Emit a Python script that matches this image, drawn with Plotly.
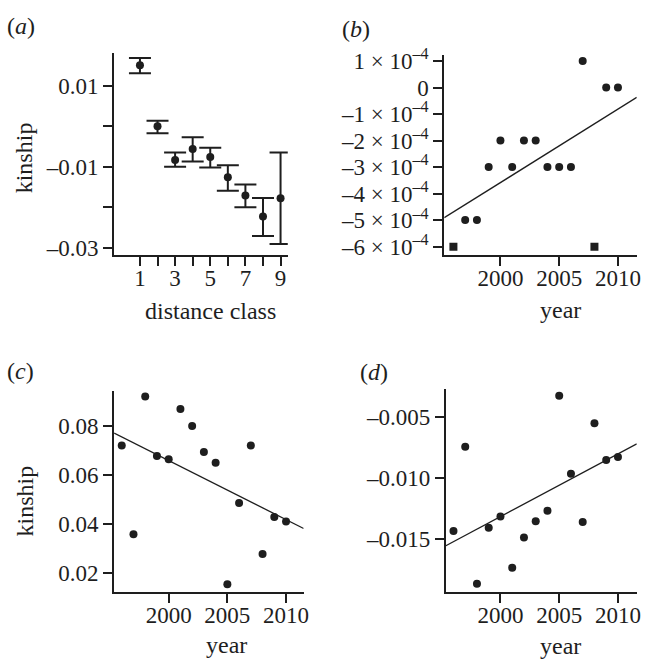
import plotly.graph_objects as go

# ---------------- data ----------------
a_class = [1, 2, 3, 4, 5, 6, 7, 8, 9]
a_mean = [0.0151, 0.0000, -0.0083, -0.0056, -0.0076, -0.0126, -0.0171, -0.0223, -0.0178]
a_upper = [0.0169, 0.0014, -0.0065, -0.0027, -0.0053, -0.0096, -0.0144, -0.0177, -0.0065]
a_lower = [0.0131, -0.0017, -0.0100, -0.0087, -0.0102, -0.0159, -0.0200, -0.0271, -0.0291]

years = [1996, 1997, 1998, 1999, 2000, 2001, 2002, 2003, 2004, 2005, 2006, 2007, 2008, 2009, 2010]
b_vals = [-6e-4, -5e-4, -5e-4, -3e-4, -2e-4, -3e-4, -2e-4, -2e-4, -3e-4, -3e-4, -3e-4, 1e-4, -6e-4, 0.0, 0.0]
c_vals = [0.0719, 0.0356, 0.0919, 0.0676, 0.0663, 0.0868, 0.0799, 0.0693, 0.0649, 0.0152,
          0.0484, 0.0719, 0.0276, 0.0427, 0.0409]
d_vals = [-0.01438, -0.00746, -0.01872, -0.01412, -0.01318, -0.01739, -0.01492, -0.01358,
          -0.01272, -0.00326, -0.00968, -0.01363, -0.00553, -0.00855, -0.00829]

b_fit_x = [1995.22, 2011.6]
b_fit_y = [-4.91e-4, -0.37e-4]
c_fit_x = [1995.35, 2011.5]
c_fit_y = [0.0770, 0.0380]
d_fit_x = [1995.35, 2011.6]
d_fit_y = [-0.01559, -0.00722]

a_tickvals = [0.01, -0.01, -0.03]
a_ticktext = ["0.01", "–0.01", "–0.03"]
a_minor_tickvals = [0.0, -0.02]
a_xtickvals = [1, 3, 5, 7, 9]
a_xticktext = ["1", "3", "5", "7", "9"]
a_xminor_tickvals = [2, 4, 6, 8]
b_tickvals = [1e-4, 0.0, -1e-4, -2e-4, -3e-4, -4e-4, -5e-4, -6e-4]
b_ticktext = ["1 × 10<sup>–4</sup>", "0", "–1 × 10<sup>–4</sup>", "–2 × 10<sup>–4</sup>",
              "–3 × 10<sup>–4</sup>", "–4 × 10<sup>–4</sup>", "–5 × 10<sup>–4</sup>",
              "–6 × 10<sup>–4</sup>"]
c_tickvals = [0.02, 0.04, 0.06, 0.08]
c_ticktext = ["0.02", "0.04", "0.06", "0.08"]
d_tickvals = [-0.005, -0.010, -0.015]
d_ticktext = ["–0.005", "–0.010", "–0.015"]
year_tickvals = [2000, 2005, 2010]
year_ticktext = ["2000", "2005", "2010"]

# ---------------- style ----------------
INK = "#1e1e1e"
FONT = "Liberation Serif"
TICK_SIZE = 23
TITLE_SIZE = 24

W, H = 648, 662


def px_x(a, b):
    return [a / W, b / W]


def px_y(top, bottom):
    return [1 - bottom / H, 1 - top / H]


fig = go.Figure()

# (a) error bars
fig.add_trace(go.Scatter(
    x=a_class, y=a_mean, mode="markers",
    marker=dict(color=INK, size=8, symbol="circle"),
    error_y=dict(type="data", symmetric=False,
                 array=[u - m for u, m in zip(a_upper, a_mean)],
                 arrayminus=[m - l for m, l in zip(a_mean, a_lower)],
                 color=INK, thickness=2, width=11),
    xaxis="x", yaxis="y", showlegend=False))

# (b)
b_symbols = ["square" if v == min(b_vals) else "circle" for v in b_vals]
fig.add_trace(go.Scatter(x=b_fit_x, y=b_fit_y, mode="lines",
                         line=dict(color=INK, width=1.3),
                         xaxis="x2", yaxis="y2", showlegend=False))
fig.add_trace(go.Scatter(x=years, y=b_vals, mode="markers",
                         marker=dict(color=INK, size=8, symbol=b_symbols),
                         xaxis="x2", yaxis="y2", showlegend=False))

# (c)
fig.add_trace(go.Scatter(x=c_fit_x, y=c_fit_y, mode="lines",
                         line=dict(color=INK, width=1.3),
                         xaxis="x3", yaxis="y3", showlegend=False))
fig.add_trace(go.Scatter(x=years, y=c_vals, mode="markers",
                         marker=dict(color=INK, size=8),
                         xaxis="x3", yaxis="y3", showlegend=False))

# (d)
fig.add_trace(go.Scatter(x=d_fit_x, y=d_fit_y, mode="lines",
                         line=dict(color=INK, width=1.3),
                         xaxis="x4", yaxis="y4", showlegend=False))
fig.add_trace(go.Scatter(x=years, y=d_vals, mode="markers",
                         marker=dict(color=INK, size=8),
                         xaxis="x4", yaxis="y4", showlegend=False))

common = dict(showline=True, linecolor=INK, linewidth=2, showgrid=False, zeroline=False,
              ticks="outside", ticklen=9, tickwidth=2, tickcolor=INK,
              tickfont=dict(family=FONT, size=TICK_SIZE, color=INK),
              tickmode="array", fixedrange=True)
xcommon = dict(common, ticklabelstandoff=-8)
ycommon = dict(common, ticklabelstandoff=0)


def minor(vals):
    return dict(tickmode="array", tickvals=vals, ticks="outside", ticklen=9,
                tickwidth=2, tickcolor=INK, showgrid=False)


fig.update_layout(
    width=W, height=H,
    margin=dict(l=0, r=0, t=0, b=0),
    paper_bgcolor="white", plot_bgcolor="white",
    font=dict(family=FONT, color=INK),
    xaxis=dict(domain=px_x(115, 290), range=[-0.47, 9.41], anchor="y",
               tickvals=a_xtickvals, ticktext=a_xticktext,
               minor=minor(a_xminor_tickvals), **xcommon),
    yaxis=dict(domain=px_y(45, 251.7), range=[-0.0319, 0.0181], anchor="x",
               tickvals=a_tickvals, ticktext=a_ticktext,
               minor=minor(a_minor_tickvals), **ycommon),
    xaxis2=dict(domain=px_x(447.7, 641.7), range=[1995.22, 2011.6], anchor="y2",
                tickvals=year_tickvals, ticktext=year_ticktext, **xcommon),
    yaxis2=dict(domain=px_y(46.7, 251.7), range=[-6.33e-4, 1.24e-4], anchor="x2",
                tickvals=b_tickvals, ticktext=b_ticktext, **ycommon),
    xaxis3=dict(domain=px_x(115, 306), range=[1995.35, 2011.5], anchor="y3",
                tickvals=year_tickvals, ticktext=year_ticktext, **xcommon),
    yaxis3=dict(domain=px_y(390, 595.7), range=[0.012, 0.0943], anchor="x3",
                tickvals=c_tickvals, ticktext=c_ticktext, **ycommon),
    xaxis4=dict(domain=px_x(449.3, 641.7), range=[1995.35, 2011.6], anchor="y4",
                tickvals=year_tickvals, ticktext=year_ticktext, **xcommon),
    yaxis4=dict(domain=px_y(388.3, 595.7), range=[-0.0194, -0.00272], anchor="x4",
                tickvals=d_tickvals, ticktext=d_ticktext, **ycommon),
)


def ann(text, x, y, size=TITLE_SIZE, angle=0):
    fig.add_annotation(text=text, x=x / W, y=1 - y / H, xref="paper", yref="paper",
                       xanchor="center", yanchor="middle", showarrow=False,
                       textangle=angle, font=dict(family=FONT, size=size, color=INK))


ann("kinship", 25, 151.7, angle=-90)
ann("distance class", 211.7, 308.3)
ann("year", 565, 308)
ann("kinship", 25, 502.3, angle=-90)
ann("year", 228.3, 649.3)
ann("year", 565, 650.7)
ann("(<i>a</i>)", 21, 17.3)
ann("(<i>b</i>)", 359, 20)
ann("(<i>c</i>)", 21, 370)
ann("(<i>d</i>)", 377, 370.8)

fig.write_html("out.html")
